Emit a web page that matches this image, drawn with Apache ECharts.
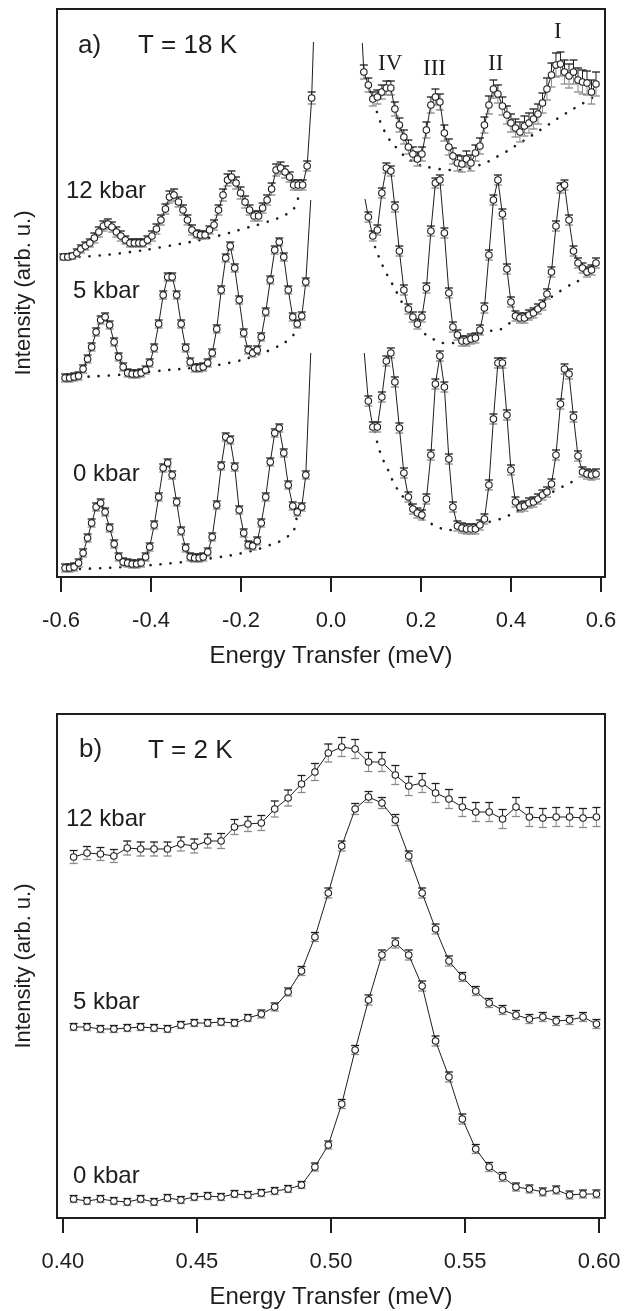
<!DOCTYPE html>
<html>
<head>
<meta charset="utf-8">
<script src="https://cdn.jsdelivr.net/npm/echarts@6/dist/echarts.min.js"></script>
<style>
html,body{margin:0;padding:0;background:#fff;}
#c{width:633px;height:1311px;}
</style>
</head>
<body>
<div id="c"></div>
<script>
// ---------- Panel a) T = 18 K ----------
const xTicksA = [-0.6, -0.4, -0.2, 0.0, 0.2, 0.4, 0.6];
const xTicksB = [0.40, 0.45, 0.50, 0.55, 0.60];

// energy grids (meV)
const xL12 = [-0.595,-0.585,-0.575,-0.565,-0.556,-0.546,-0.536,-0.526,-0.516,-0.506,
  -0.496,-0.487,-0.477,-0.467,-0.457,-0.447,-0.437,-0.427,-0.418,-0.408,
  -0.398,-0.388,-0.378,-0.368,-0.359,-0.349,-0.339,-0.329,-0.319,-0.309,
  -0.299,-0.290,-0.280,-0.270,-0.260,-0.250,-0.240,-0.230,-0.221,-0.211,
  -0.201,-0.191,-0.181,-0.171,-0.161,-0.152,-0.142,-0.132,-0.122,-0.112,
  -0.102,-0.092,-0.083,-0.073,-0.063,-0.053,-0.043];
const xL05 = [-0.591,-0.581,-0.571,-0.561,-0.551,-0.541,-0.532,-0.522,-0.512,-0.502,
  -0.492,-0.482,-0.472,-0.462,-0.452,-0.442,-0.432,-0.422,-0.412,-0.403,
  -0.393,-0.383,-0.373,-0.363,-0.353,-0.343,-0.333,-0.323,-0.313,-0.303,
  -0.293,-0.284,-0.274,-0.264,-0.254,-0.244,-0.234,-0.224,-0.214,-0.204,
  -0.194,-0.184,-0.174,-0.164,-0.155,-0.145,-0.135,-0.125,-0.115,-0.105,
  -0.095,-0.085,-0.075,-0.065,-0.056];
const xR12 = [0.073,0.083,0.093,0.103,0.113,0.123,0.133,0.142,0.152,0.162,
  0.172,0.182,0.192,0.202,0.212,0.222,0.232,0.242,0.252,0.262,
  0.271,0.281,0.291,0.301,0.311,0.321,0.331,0.341,0.351,0.361,
  0.371,0.381,0.391,0.400,0.410,0.420,0.430,0.440,0.450,0.460,
  0.470,0.480,0.490,0.500,0.510,0.519,0.529,0.539,0.549,0.559,
  0.569,0.579,0.589];
const xR05 = [0.083,0.093,0.103,0.113,0.123,0.133,0.142,0.152,0.162,
  0.172,0.182,0.192,0.202,0.212,0.222,0.232,0.242,0.252,0.262,
  0.271,0.281,0.291,0.301,0.311,0.321,0.331,0.341,0.351,0.361,
  0.371,0.381,0.391,0.400,0.410,0.420,0.430,0.440,0.450,0.460,
  0.470,0.480,0.490,0.500,0.510,0.519,0.529,0.539,0.549,0.559,
  0.569,0.579,0.589];

// intensities (arb. u., offset curves)
const a12L = [320,320,321,324,328,331,334,339,345,351,
  353,350,345,341,337,334,334,334,334,337,
  341,348,357,368,380,382,375,367,357,347,
  343,342,342,347,352,367,382,397,400,394,
  384,375,367,361,361,369,377,388,407,409,
  405,400,392,392,392,411,479];
const e12L = [3,3,3,4,4,4,4,5,5,5, 5,5,5,5,4,4,4,4,4,4, 5,5,5,5,6,6,5,5,5,5,
  4,4,4,4,5,5,6,6,6,6, 6,6,5,5,5,5,5,6,6,6, 6,5,5,5,5,5,6];
const a12R = [505,492,478,480,485,489,489,468,452,440,
  430,423,418,423,447,472,480,475,444,430,
  421,414,413,418,414,424,431,452,472,488,
  483,471,462,454,449,445,451,454,458,463,
  474,488,502,512,513,505,501,505,497,495,
  494,485,493];
const e12R = [7,7,7,7,7,7,7,7,7,7, 7,7,7,7,8,8,8,8,8,8, 8,8,8,8,8,8,8,8,9,9,
  9,9,9,9,9,10,10,10,10,10, 10,11,12,12,12,12,12,12,12,12, 12,12,12];
const a5L = [199,199,200,201,208,218,230,245,257,260,
  252,235,220,210,204,203,203,204,207,214,
  229,253,282,300,300,282,253,229,215,209,
  209,210,214,224,248,287,319,331,309,277,
  244,227,224,227,240,265,297,327,335,320,
  287,260,253,261,295];
const e5L = 4;
const a5R = [360,341,347,384,409,406,370,326,287,268,
  260,253,260,289,346,394,397,344,284,250,
  242,236,236,238,239,247,269,322,377,397,
  363,308,275,261,259,259,262,264,268,272,
  283,305,351,389,392,357,326,314,309,305,
  307,314];
const e5R = 5;
const a0L = [9,9,10,14,24,39,54,70,74,65,
  49,33,20,15,14,13,13,14,20,30,
  52,80,109,114,102,75,46,29,20,19,
  19,20,25,40,72,111,140,137,110,67,
  44,32,31,36,54,80,115,144,149,124,
  92,71,65,70,102];
const e0L = 4;
const a0R = [176,150,150,180,216,224,195,149,104,80,
  68,64,62,78,122,193,221,190,118,70,
  51,49,48,48,48,52,58,92,158,214,
  214,162,107,75,70,71,74,75,78,82,
  85,93,122,173,208,203,160,121,105,103,
  102,103];
const e0R = 5;
// continuation of the elastic line beyond the plotted points
const tail12L = [-0.039, 535], tail5L = [-0.045, 377], tail0L = [-0.045, 224];
const head12R = [0.0696, 534], head5R = [0.0756, 378], head0R = [0.074, 224];

// dotted backgrounds
const bg12Lx = [-0.559,-0.462,-0.362,-0.262,-0.189,-0.143,-0.098,-0.080,-0.073];
const bg12Ly = [320,324,331,340,349,355,363,370,380];
const bg12Rx = [0.102,0.120,0.146,0.183,0.227,0.278,0.324,0.372,0.420,0.472,0.516,0.561,0.583];
const bg12Ry = [465,445,429,415,409,407,411,421,434,449,462,474,480];
const bg5Lx = [-0.561,-0.476,-0.387,-0.291,-0.217,-0.165,-0.121,-0.095,-0.080];
const bg5Ly = [200,202,206,210,215,222,230,237,244];
const bg5Rx = [0.098,0.116,0.135,0.155,0.164,0.207,0.227,0.248,0.268,0.353,0.372,0.390,0.450,0.520,0.561,0.583];
const bg5Ry = [330,310,294,277,269,244,238,234,234,246,247,252,268,289,300,314];
const bg0Lx = [-0.558,-0.462,-0.350,-0.262,-0.187,-0.136,-0.098,-0.080,-0.076];
const bg0Ly = [8,10,14,19,25,32,40,50,64];
const bg0Rx = [0.098,0.109,0.127,0.146,0.172,0.198,0.220,0.242,0.264,0.368,0.387,0.405,0.472,0.509,0.531,0.550];
const bg0Ry = [145,125,107,89,74,60,54,49,47,57,60,64,80,89,94,99];

// ---------- Panel b) T = 2 K ----------
const xB = [0.404,0.409,0.414,0.419,0.424,0.429,0.434,0.439,0.444,0.449,
  0.454,0.459,0.464,0.469,0.474,0.479,0.484,0.489,0.494,0.499,
  0.504,0.509,0.514,0.519,0.524,0.529,0.534,0.539,0.544,0.549,
  0.554,0.559,0.564,0.569,0.574,0.579,0.584,0.589,0.594,0.599];
const b12 = [361,365,364,362,370,369,369,369,374,372,
  377,377,391,394,395,409,420,434,446,465,
  471,469,456,456,443,432,435,425,419,411,
  406,406,399,411,401,400,401,401,400,401];
const eb12 = [6.5,6.5,6.5,6.5,7,7,7,7,7,7, 7,7.5,7.5,7.5,7.5,8,8,8.5,8.5,9,
  9.5,9.5,9.5,9.5,9.5,9.5,9.5,9.5,9.5,9.5, 9.5,9.5,9.5,9.5,9.5,9.5,9.5,9.5,9.5,9.5];
const b5 = [191,191,189,189,190,191,190,189,193,195,
  195,196,195,200,204,211,226,247,281,325,
  372,409,421,415,398,362,325,289,257,241,
  227,215,208,203,199,201,197,198,201,194];
const eb5 = [3.5,3.5,3.5,3.5,3.5,3.5,3.5,3.5,3.5,3.5, 3.5,3.5,3.5,3.5,4,4,4,4.5,4.5,5,
  5,5.5,5.5,5.5,5.5,5,5,5,5,4.5, 4.5,4.5,4.5,4.5,4.5,4.5,4.5,4.5,4.5,4.5];
const b0 = [19,17,19,17,16,19,16,20,18,21,
  22,21,24,23,25,27,29,33,51,73,
  114,168,218,263,275,263,232,177,141,99,
  69,51,41,31,29,26,28,23,24,24];
const eb0 = [3.5,3.5,3.5,3.5,3.5,3.5,3.5,3.5,3.5,3.5, 3.5,3.5,3.5,3.5,3.5,3.5,3.5,3.5,4,4,
  4.5,4.5,5,5,5,5,5,5,5,5, 4.5,4.5,4.5,4,4,4,4,4,4,4];

// ---------- chart ----------
const FONT = 'Liberation Sans, Arial, sans-serif';
const INK = '#1e1e1e';

function pts(xs, ys) { return xs.map((x, i) => [x, ys[i]]); }

function dataSeries(g, xs, ys, head, tail) {
  const d = pts(xs, ys).map(p => ({ value: p }));
  if (head) d.unshift({ value: head, symbol: 'none' });
  if (tail) d.push({ value: tail, symbol: 'none' });
  return {
    type: 'line', xAxisIndex: g, yAxisIndex: g, data: d,
    symbol: 'circle', symbolSize: 6.5, showAllSymbol: true,
    itemStyle: { color: '#fff', borderColor: INK, borderWidth: 1.1 },
    lineStyle: { color: INK, width: 1 },
    z: 4, silent: true
  };
}

function errSeries(g, xs, ys, err) {
  return {
    type: 'custom', xAxisIndex: g, yAxisIndex: g, z: 3, silent: true,
    data: xs.map((x, i) => [x, ys[i], Array.isArray(err) ? err[i] : err]),
    encode: { x: 0, y: 1 },
    renderItem: function (params, api) {
      const x = api.value(0), y = api.value(1), e = api.value(2);
      const c = api.coord([x, y]);
      const t = api.coord([x, y + e]);
      const b = api.coord([x, y - e]);
      const w = 4;
      return {
        type: 'group', children: [
          { type: 'line', shape: { x1: c[0], y1: t[1], x2: c[0], y2: c[1] }, style: { stroke: INK, lineWidth: 1 } },
          { type: 'line', shape: { x1: c[0] - w, y1: t[1], x2: c[0] + w, y2: t[1] }, style: { stroke: INK, lineWidth: 1.3 } },
          { type: 'line', shape: { x1: c[0], y1: c[1], x2: c[0], y2: b[1] }, style: { stroke: '#8a8a8a', lineWidth: 1 } },
          { type: 'line', shape: { x1: c[0] - w, y1: b[1], x2: c[0] + w, y2: b[1] }, style: { stroke: '#8a8a8a', lineWidth: 1.3 } }
        ]
      };
    }
  };
}

function dotSeries(g, xs, ys) {
  return {
    type: 'line', xAxisIndex: g, yAxisIndex: g, data: pts(xs, ys),
    symbol: 'none', smooth: 0.5, z: 2, silent: true,
    lineStyle: { color: INK, width: 2.6, type: [0.1, 10], cap: 'round' }
  };
}

function xAxisCfg(g, min, max, ticks, digits) {
  return {
    gridIndex: g, type: 'value', min: min, max: max,
    axisLine: { show: false }, splitLine: { show: false },
    axisTick: { show: true, inside: false, length: 15, customValues: ticks, lineStyle: { color: INK, width: 2 } },
    axisLabel: {
      customValues: ticks, formatter: v => Number(v).toFixed(digits),
      fontSize: 22, fontFamily: FONT, color: INK, margin: 33
    }
  };
}

function txt(s, x, y, size, align, family, rot) {
  return {
    type: 'text', x: x, y: y, rotation: rot || 0, silent: true,
    style: { text: s, fill: INK, font: size + 'px ' + (family || FONT), textAlign: align || 'left', textVerticalAlign: 'middle' }
  };
}

const chart = echarts.init(document.getElementById('c'), null, { renderer: 'canvas' });
const SERIF = '"Liberation Serif", "Times New Roman", serif';

chart.setOption({
  animation: false,
  backgroundColor: '#fff',
  grid: [
    { left: 57, top: 9, width: 548, height: 568, show: true, borderColor: INK, borderWidth: 2, backgroundColor: 'transparent' },
    { left: 57, top: 714, width: 548, height: 504, show: true, borderColor: INK, borderWidth: 2, backgroundColor: 'transparent' }
  ],
  xAxis: [
    xAxisCfg(0, -0.609, 0.609, xTicksA, 1),
    xAxisCfg(1, 0.3978, 0.6022, xTicksB, 2)
  ],
  yAxis: [
    { gridIndex: 0, type: 'value', min: 0, max: 568, show: false },
    { gridIndex: 1, type: 'value', min: 0, max: 504, show: false }
  ],
  series: [
    dotSeries(0, bg12Lx, bg12Ly), dotSeries(0, bg12Rx, bg12Ry),
    dotSeries(0, bg5Lx, bg5Ly), dotSeries(0, bg5Rx, bg5Ry),
    dotSeries(0, bg0Lx, bg0Ly), dotSeries(0, bg0Rx, bg0Ry),
    errSeries(0, xL12, a12L, e12L), dataSeries(0, xL12, a12L, null, tail12L),
    errSeries(0, xR12, a12R, e12R), dataSeries(0, xR12, a12R, head12R, null),
    errSeries(0, xL05, a5L, e5L), dataSeries(0, xL05, a5L, null, tail5L),
    errSeries(0, xR05, a5R, e5R), dataSeries(0, xR05, a5R, head5R, null),
    errSeries(0, xL05, a0L, e0L), dataSeries(0, xL05, a0L, null, tail0L),
    errSeries(0, xR05, a0R, e0R), dataSeries(0, xR05, a0R, head0R, null),
    errSeries(1, xB, b12, eb12), dataSeries(1, xB, b12),
    errSeries(1, xB, b5, eb5), dataSeries(1, xB, b5),
    errSeries(1, xB, b0, eb0), dataSeries(1, xB, b0)
  ],
  graphic: [
    txt('a)', 78, 46, 26), txt('T = 18 K', 138, 46, 26),
    txt('12 kbar', 66, 191, 24), txt('5 kbar', 73, 291, 24), txt('0 kbar', 73, 474, 24),
    txt('IV', 378, 64, 23, 'left', SERIF), txt('III', 423, 69, 23, 'left', SERIF),
    txt('II', 488, 64, 23, 'left', SERIF), txt('I', 554, 32, 23, 'left', SERIF),
    txt('Energy Transfer (meV)', 331, 656, 24, 'center'),
    txt('Intensity (arb. u.)', 24, 293, 22, 'center', null, Math.PI / 2),
    txt('b)', 79, 750, 26), txt('T = 2 K', 148, 751, 26),
    txt('12 kbar', 66, 819, 24), txt('5 kbar', 73, 1002, 24), txt('0 kbar', 73, 1176, 24),
    txt('Energy Transfer (meV)', 331, 1297, 24, 'center'),
    txt('Intensity (arb. u.)', 24, 966, 22, 'center', null, Math.PI / 2)
  ]
});
</script>
</body>
</html>
